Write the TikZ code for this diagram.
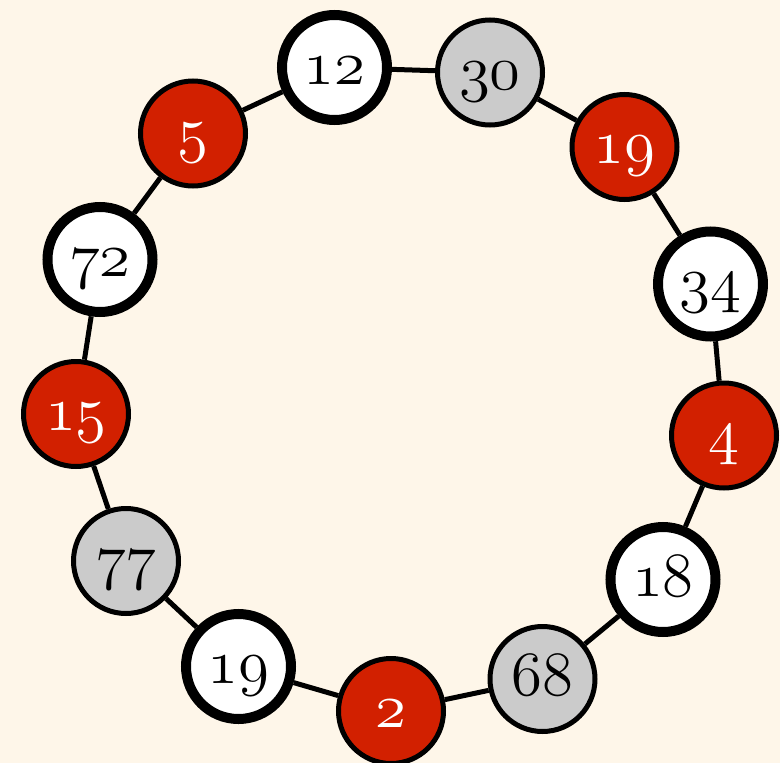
\RequirePackage{fix-cm}
\documentclass[tikz,border=0pt]{standalone}
\definecolor{bgcream}{HTML}{FEF6E9}
\definecolor{nodered}{HTML}{D22000}
\definecolor{nodegray}{HTML}{CBCBCB}
\tikzset{
  ringnode/.style={circle, minimum size=105pt, inner sep=0pt, draw=black,
    font=\fontsize{63}{68}\usefont{OML}{cmm}{m}{it}, text height=33pt, text depth=0pt},
  rednode/.style={ringnode, fill=nodered, text=white, line width=5pt},
  graynode/.style={ringnode, fill=nodegray, text=black, line width=5pt},
  whitenode/.style={ringnode, fill=white, text=black, line width=10pt},
  ringedge/.style={draw=black, line width=5pt}
}
\begin{document}
\begin{tikzpicture}[x=1pt, y=-1pt]
\fill[bgcream] (0,0) rectangle (780,763);
\useasboundingbox (0,0) rectangle (780,763);
\node[whitenode] (n12) at (334.5,67.5) {12};
\node[graynode] (n30) at (490,72.5) {30};
\node[rednode] (n19a) at (624.5,147) {19};
\node[whitenode] (n34) at (710.5,284) {34};
\node[rednode] (n4) at (724,435.5) {4};
\node[whitenode] (n18) at (663,579.5) {18};
\node[graynode] (n68) at (542.5,679) {68};
\node[rednode] (n2) at (391,711) {2};
\node[whitenode] (n19b) at (238.5,666.5) {19};
\node[graynode] (n77) at (126,561) {77};
\node[rednode] (n15) at (76,414) {15};
\node[whitenode] (n72) at (100,259.5) {72};
\node[rednode] (n5) at (193,133.5) {5};
\draw[ringedge] (n12) -- (n30);
\draw[ringedge] (n30) -- (n19a);
\draw[ringedge] (n19a) -- (n34);
\draw[ringedge] (n34) -- (n4);
\draw[ringedge] (n4) -- (n18);
\draw[ringedge] (n18) -- (n68);
\draw[ringedge] (n68) -- (n2);
\draw[ringedge] (n2) -- (n19b);
\draw[ringedge] (n19b) -- (n77);
\draw[ringedge] (n77) -- (n15);
\draw[ringedge] (n15) -- (n72);
\draw[ringedge] (n72) -- (n5);
\draw[ringedge] (n5) -- (n12);
\end{tikzpicture}
\end{document}
